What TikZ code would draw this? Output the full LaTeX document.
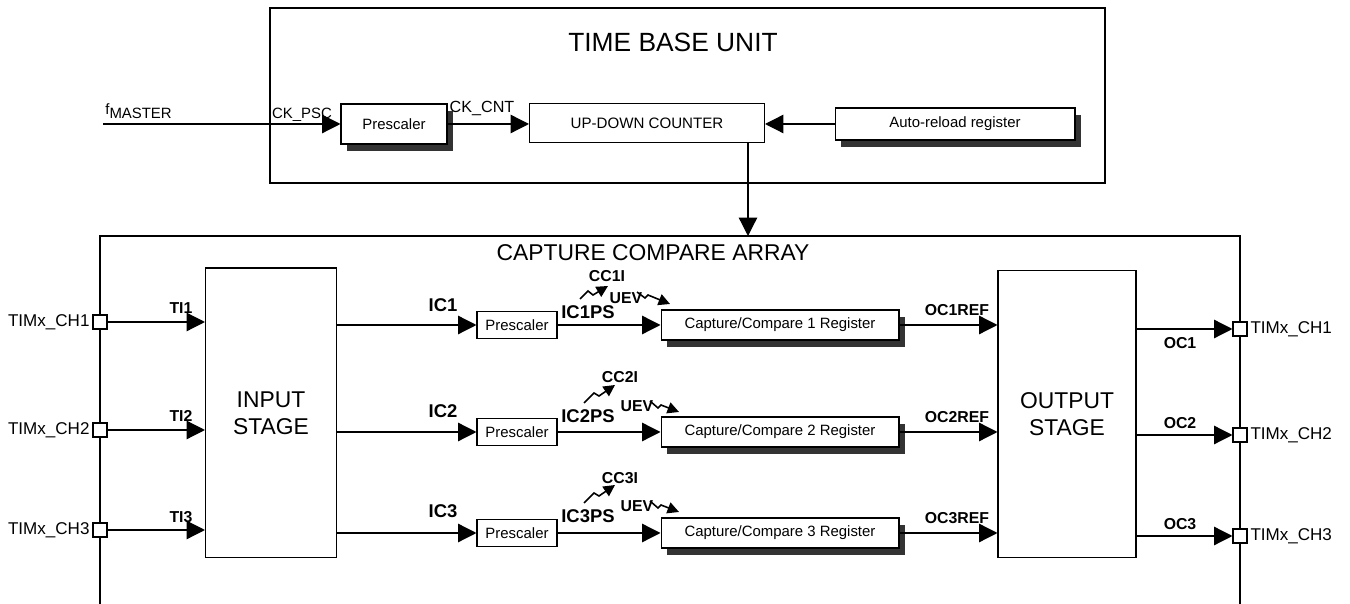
\documentclass[tikz,border=0pt]{standalone}
\usepackage{fontspec}
\setmainfont{Liberation Sans}
\usetikzlibrary{arrows.meta,shadows}
\definecolor{regshadow}{HTML}{333333}

\begin{document}
\begin{tikzpicture}[x=0.02cm,y=-0.02cm,
  box/.style={draw,line width=0.6pt,fill=white,inner sep=0pt},
  regbox/.style={box,general shadow={fill=regshadow,shadow xshift=3.5pt,shadow yshift=-4pt}},
  pin/.style={draw,line width=0.6pt,fill=white,minimum size=0.28cm,inner sep=0pt},
  sig/.style={line width=0.75pt,-{Triangle[length=10.5pt,width=10.5pt]}},
  evt/.style={line width=0.9pt,-{Triangle[length=6.5pt,width=6.5pt]}},
  lbl/.style={font=\bfseries\fontsize{9}{10}\selectfont,inner sep=0pt},
  big/.style={font=\bfseries\fontsize{10.5}{12}\selectfont,inner sep=0pt},
  txt/.style={font=\fontsize{8.5}{10}\selectfont,inner sep=0pt},
  pinlbl/.style={font=\fontsize{9.7}{11}\selectfont,inner sep=1.5pt}]
  \useasboundingbox (0,0) rectangle (1350,604);

  \draw[line width=0.6pt] (270,8) rectangle (1105,183);
  \node[font=\fontsize{15}{18}\selectfont] (tbutitle) at (673,42) {TIME BASE UNIT};
  \node[regbox,minimum width=2.12cm,minimum height=0.8cm,txt] (psc) at (394,124) {Prescaler};
  \node[box,minimum width=4.7cm,minimum height=0.78cm,font=\fontsize{8.6}{10}\selectfont] (cnt) at (647,123) {UP-DOWN COUNTER};
  \node[regbox,minimum width=4.8cm,minimum height=0.64cm,txt] (arr) at (955,124) {Auto-reload register};
  \coordinate (fm) at (103,124);
  \node[txt,anchor=south west] (fmlbl) at (105,119) {f\raisebox{-0.45ex}{MASTER}};
  \draw[sig] (fm) -- (psc.west);
  \node[txt] (ckpsc) at (302,115) {CK\_PSC};
  \draw[sig] (psc.east) -- (psc.east -| cnt.west);
  \node[font=\fontsize{9.2}{11}\selectfont,inner sep=0pt] (ckcnt) at (482,108) {CK\_CNT};
  \draw[sig] (arr.west) -- (arr.west -| cnt.east);
  \coordinate (ccatop) at (748,236);
  \draw[sig] (cnt.south -| ccatop) -- (ccatop);

  \draw[line width=0.6pt] (100,604) -- (100,236) -- (1240,236) -- (1240,604);
  \node[font=\fontsize{13}{16}\selectfont] (ccatitle) at (653,253) {CAPTURE COMPARE ARRAY};
  \node[box,minimum width=2.62cm,minimum height=5.8cm,align=center,font=\fontsize{13}{15.5}\selectfont] (ins) at (271,413) {INPUT\\STAGE};
  \node[box,minimum width=2.76cm,minimum height=5.74cm,align=center,font=\fontsize{13}{15.5}\selectfont] (outs) at (1067,414) {OUTPUT\\STAGE};

  \node[pin] (pinl1) at (100,322) {};
  \node[pin] (pinl2) at (100,430) {};
  \node[pin] (pinl3) at (100,530) {};
  \node[pinlbl,anchor=east] (chl1) at (pinl1.west) {TIMx\_CH1};
  \node[pinlbl,anchor=east] (chl2) at (pinl2.west) {TIMx\_CH2};
  \node[pinlbl,anchor=east] (chl3) at (pinl3.west) {TIMx\_CH3};
  \draw[sig] (pinl1.east) -- (pinl1.east -| ins.west);
  \draw[sig] (pinl2.east) -- (pinl2.east -| ins.west);
  \draw[sig] (pinl3.east) -- (pinl3.east -| ins.west);
  \node[lbl] (ti1) at (181,308) {TI1};
  \node[lbl] (ti2) at (181,416) {TI2};
  \node[lbl] (ti3) at (181,517) {TI3};

  \node[box,minimum width=1.6cm,minimum height=0.54cm,txt] (psc1) at (517,325) {Prescaler};
  \node[box,minimum width=1.6cm,minimum height=0.54cm,txt] (psc2) at (517,432) {Prescaler};
  \node[box,minimum width=1.6cm,minimum height=0.54cm,txt] (psc3) at (517,533) {Prescaler};
  \draw[sig] (ins.east |- psc1.west) -- (psc1.west);
  \draw[sig] (ins.east |- psc2.west) -- (psc2.west);
  \draw[sig] (ins.east |- psc3.west) -- (psc3.west);
  \node[big] (ic1) at (443,305) {IC1};
  \node[big] (ic2) at (443,411) {IC2};
  \node[big] (ic3) at (443,511) {IC3};

  \node[regbox,minimum width=4.76cm,minimum height=0.6cm,txt] (ccr1) at (780,325) {Capture/Compare 1 Register};
  \node[regbox,minimum width=4.76cm,minimum height=0.6cm,txt] (ccr2) at (780,432) {Capture/Compare 2 Register};
  \node[regbox,minimum width=4.76cm,minimum height=0.6cm,txt] (ccr3) at (780,533) {Capture/Compare 3 Register};
  \draw[sig] (psc1.east) -- (ccr1.west);
  \draw[sig] (psc2.east) -- (ccr2.west);
  \draw[sig] (psc3.east) -- (ccr3.west);
  \node[big] (ic1ps) at (588,312) {IC1PS};
  \node[big] (ic2ps) at (588,416) {IC2PS};
  \node[big] (ic3ps) at (588,516) {IC3PS};

  \node[lbl] (cc1i) at (607,276) {CC1I};
  \node[lbl] (cc2i) at (620,377) {CC2I};
  \node[lbl] (cc3i) at (620,478) {CC3I};
  \coordinate (cc1s) at (580,299);
  \coordinate (cc2s) at (584,403);
  \coordinate (cc3s) at (584,503);
  \draw[evt] (cc1s) -- ++(8,-8) -- ++(5,4) -- ++(15,-9);
  \draw[evt] (cc2s) -- ++(10,-10) -- ++(5,3) -- ++(16,-11);
  \draw[evt] (cc3s) -- ++(10,-10) -- ++(5,3) -- ++(16,-11);
  \node[lbl] (uev1) at (626,298) {UEV};
  \node[lbl] (uev2) at (637,406) {UEV};
  \node[lbl] (uev3) at (637,506) {UEV};
  \coordinate (uev1s) at (637,292);
  \coordinate (uev2s) at (650,401);
  \coordinate (uev3s) at (650,501);
  \draw[evt] (uev1s) -- ++(8,6) -- ++(3,-3) -- ++(22,9);
  \draw[evt] (uev2s) -- ++(8,7) -- ++(3,-3) -- ++(18,7);
  \draw[evt] (uev3s) -- ++(8,7) -- ++(3,-3) -- ++(18,7);

  \draw[sig] (ccr1.east) -- (ccr1.east -| outs.west);
  \draw[sig] (ccr2.east) -- (ccr2.east -| outs.west);
  \draw[sig] (ccr3.east) -- (ccr3.east -| outs.west);
  \node[lbl] (oc1ref) at (957,310) {OC1REF};
  \node[lbl] (oc2ref) at (957,417) {OC2REF};
  \node[lbl] (oc3ref) at (957,518) {OC3REF};

  \node[pin] (pinr1) at (1240,329) {};
  \node[pin] (pinr2) at (1240,435) {};
  \node[pin] (pinr3) at (1240,536) {};
  \node[pinlbl,anchor=west] (chr1) at (pinr1.east) {TIMx\_CH1};
  \node[pinlbl,anchor=west] (chr2) at (pinr2.east) {TIMx\_CH2};
  \node[pinlbl,anchor=west] (chr3) at (pinr3.east) {TIMx\_CH3};
  \draw[sig] (outs.east |- pinr1.west) -- (pinr1.west);
  \draw[sig] (outs.east |- pinr2.west) -- (pinr2.west);
  \draw[sig] (outs.east |- pinr3.west) -- (pinr3.west);
  \node[lbl] (oc1) at (1180,343) {OC1};
  \node[lbl] (oc2) at (1180,423) {OC2};
  \node[lbl] (oc3) at (1180,524) {OC3};
\end{tikzpicture}
\end{document}
